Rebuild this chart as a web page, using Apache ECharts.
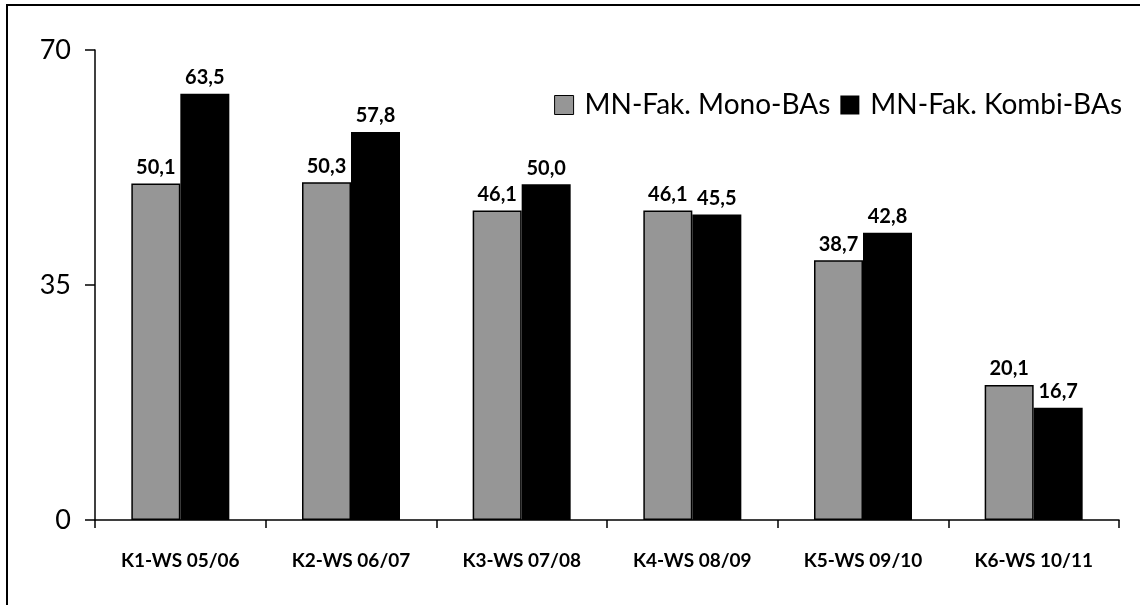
<!DOCTYPE html>
<html>
<head>
<meta charset="utf-8">
<script src="https://cdn.jsdelivr.net/npm/echarts@6/dist/echarts.min.js"></script>
<style>
  html, body { margin: 0; padding: 0; background: #fff; }
  #chart { width: 1140px; height: 605px; }
</style>
</head>
<body>
<div id="chart"></div>
<script>
// Kategorien und Werte
var categories = ['K1-WS 05/06', 'K2-WS 06/07', 'K3-WS 07/08', 'K4-WS 08/09', 'K5-WS 09/10', 'K6-WS 10/11']
var monoValues = [50.1, 50.3, 46.1, 46.1, 38.7, 20.1]
var kombiValues = [63.5, 57.8, 50.0, 45.5, 42.8, 16.7]
var seriesNames = ['MN-Fak. Mono-BAs', 'MN-Fak. Kombi-BAs']
var yTicks = [0, 35, 70]

var font = 'Lato, "Open Sans", sans-serif'

function fmt(p) {
  return p.value.toFixed(1).replace('.', ',')
}

var myChart = echarts.init(document.getElementById('chart'))
myChart.setOption({
  animation: false,
  textStyle: { fontFamily: font },
  graphic: [
    {
      type: 'rect',
      shape: { x: 7, y: 5, width: 1140, height: 610 },
      style: { fill: 'none', stroke: '#000', lineWidth: 2 },
      silent: true
    }
  ],
  grid: { left: 95, right: 21, top: 50, bottom: 85 },
  legend: {
    right: 13,
    top: 86,
    itemWidth: 19,
    itemHeight: 19,
    itemGap: 10,
    textStyle: { fontSize: 28, color: '#000', fontFamily: font, padding: [0, 0, 0, 6] },
    data: [
      { name: seriesNames[0], icon: 'rect', itemStyle: { color: '#969696', borderColor: '#000', borderWidth: 1 } },
      { name: seriesNames[1], icon: 'rect', itemStyle: { color: '#000' } }
    ]
  },
  xAxis: {
    type: 'category',
    data: categories,
    axisLine: { lineStyle: { color: '#000', width: 1.5 } },
    axisTick: { show: true, length: 8, inside: false, lineStyle: { color: '#000', width: 1.5 } },
    axisLabel: {
      interval: 0,
      margin: 31,
      fontSize: 19,
      fontWeight: 'bold',
      color: '#000',
      fontFamily: font
    },
    splitLine: { show: false }
  },
  yAxis: {
    type: 'value',
    min: yTicks[0],
    max: yTicks[2],
    interval: yTicks[1] - yTicks[0],
    axisLine: { show: true, lineStyle: { color: '#000', width: 1.5 } },
    axisTick: { show: true, length: 10, lineStyle: { color: '#000', width: 1.5 } },
    axisLabel: { fontSize: 27, color: '#000', margin: 24, fontFamily: font },
    splitLine: { show: false }
  },
  series: [
    {
      name: seriesNames[0],
      type: 'bar',
      data: monoValues,
      barWidth: 49,
      barGap: '0%',
      itemStyle: { color: '#969696', borderColor: '#000', borderWidth: 1.5 },
      label: {
        show: true,
        position: 'top',
        distance: 6,
        formatter: fmt,
        fontSize: 20,
        fontWeight: 'bold',
        color: '#000',
        fontFamily: font
      }
    },
    {
      name: seriesNames[1],
      type: 'bar',
      data: kombiValues,
      barWidth: 49,
      barGap: '0%',
      itemStyle: { color: '#000' },
      label: {
        show: true,
        position: 'top',
        distance: 6,
        formatter: fmt,
        fontSize: 20,
        fontWeight: 'bold',
        color: '#000',
        fontFamily: font
      }
    }
  ]
})
</script>
</body>
</html>
